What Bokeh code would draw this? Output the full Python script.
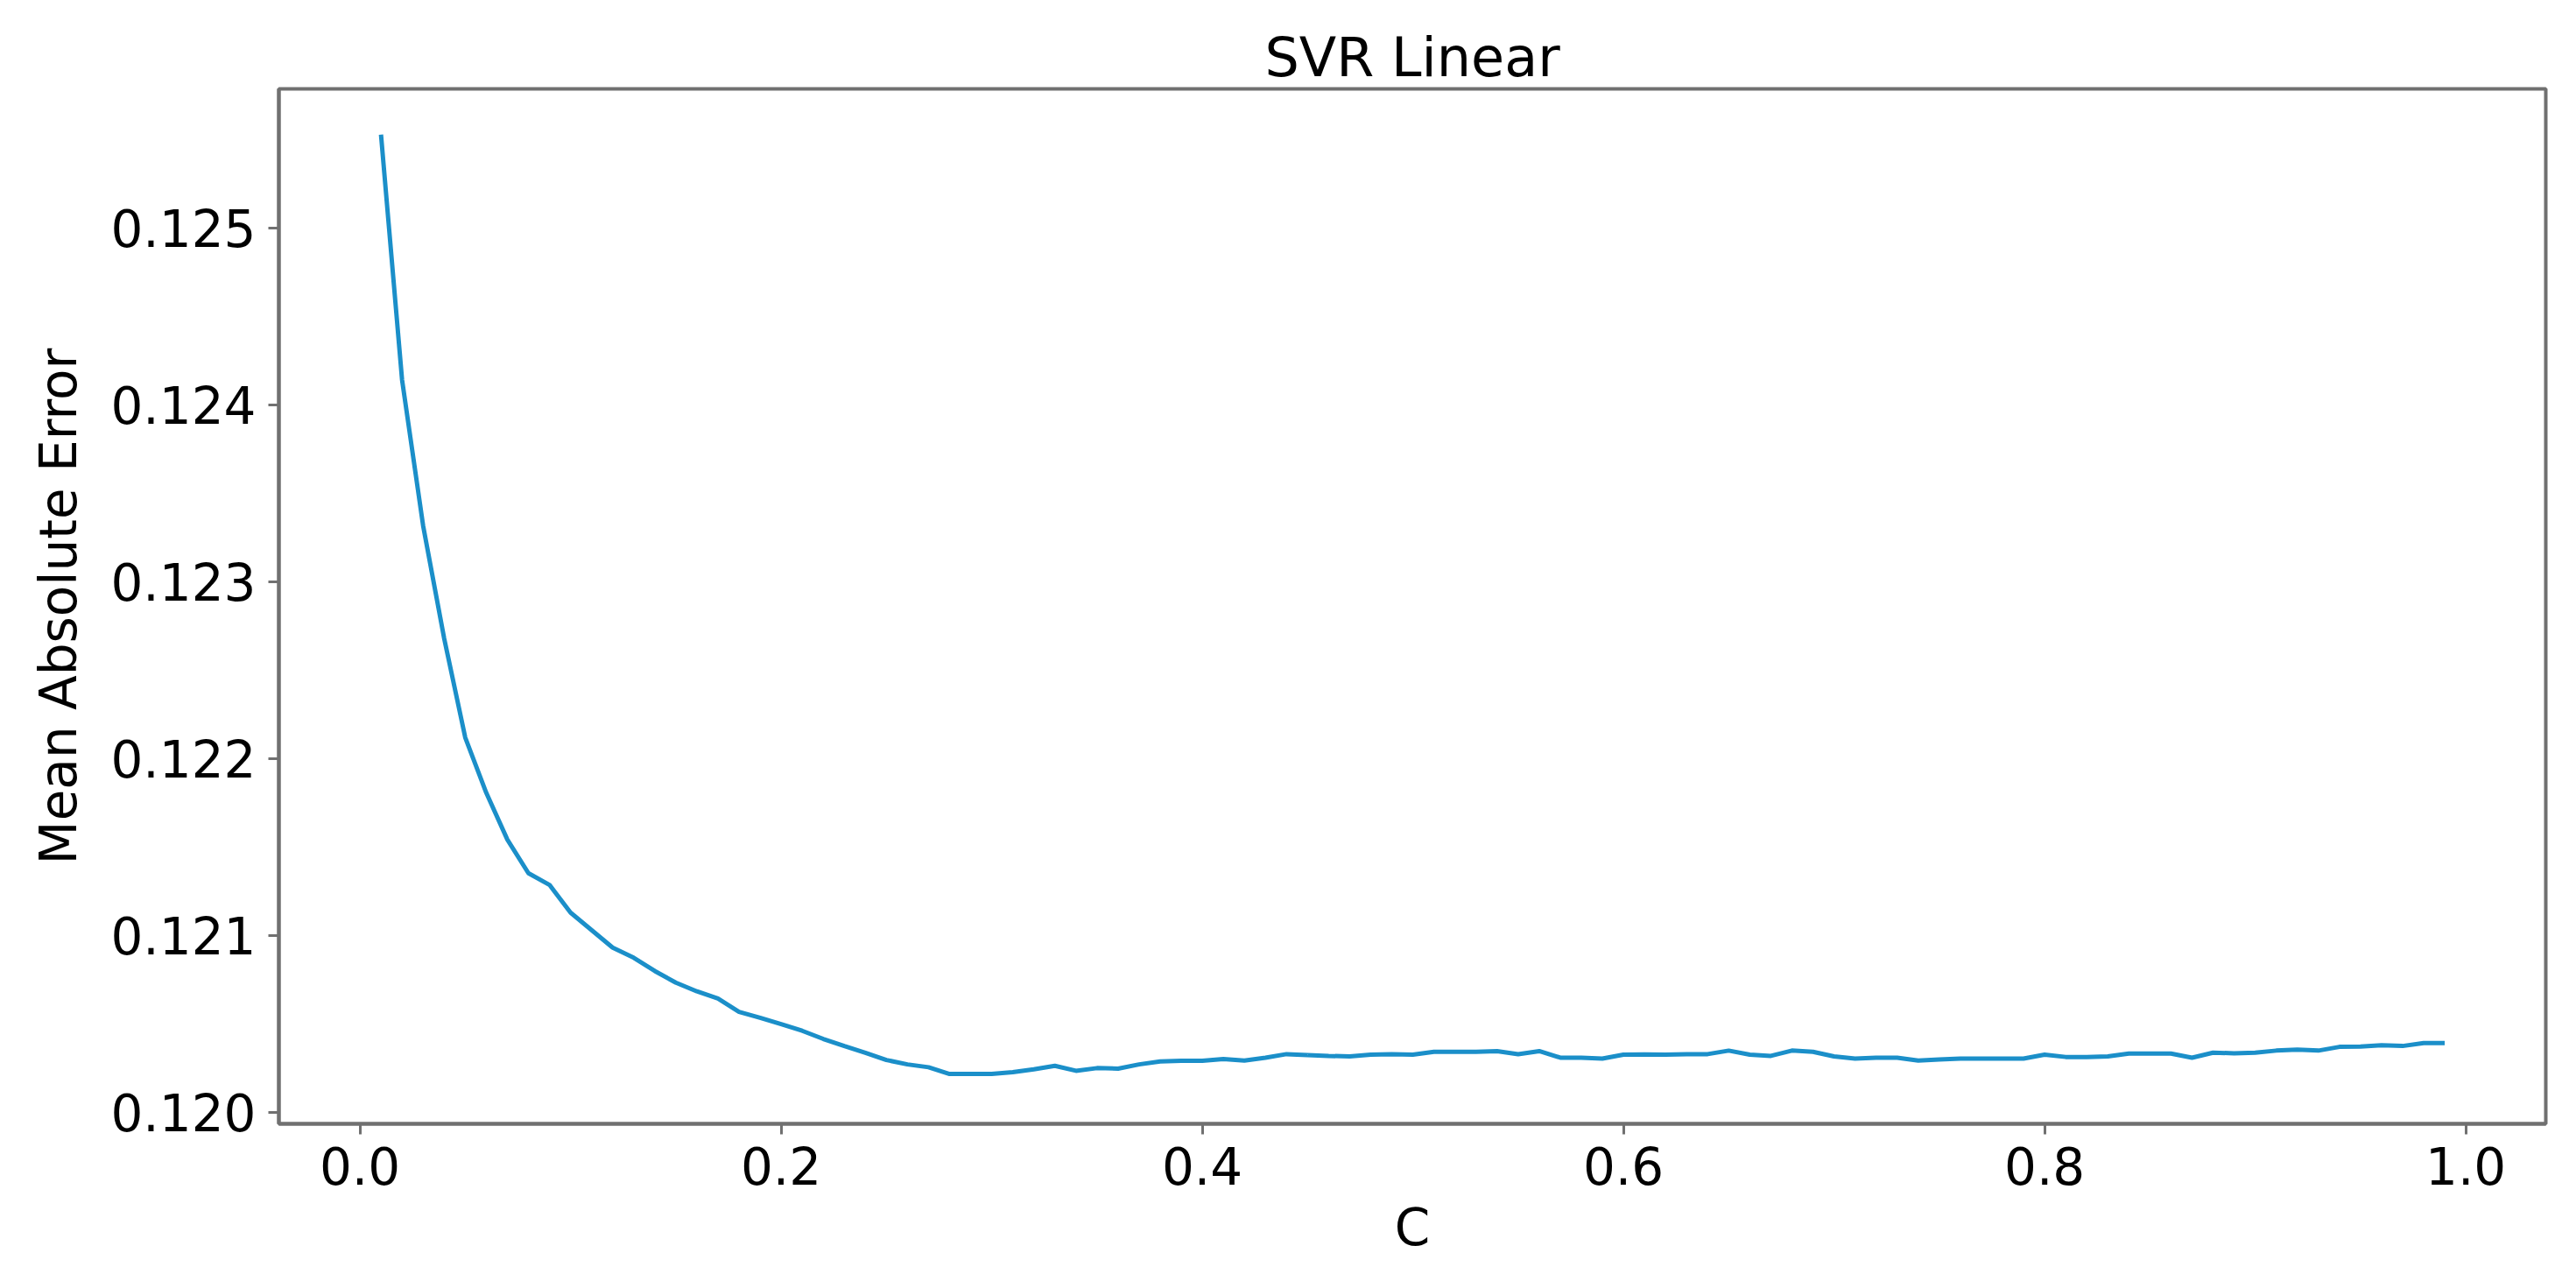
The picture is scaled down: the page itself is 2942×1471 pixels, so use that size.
from bokeh.plotting import figure
from bokeh.models import Range1d, FixedTicker, NumeralTickFormatter
from bokeh.embed import file_html
from bokeh.resources import INLINE

# Data (C from 0.01 to 0.99)
c_values = [
    0.01, 0.02, 0.03, 0.04, 0.05, 0.06, 0.07, 0.08, 0.09, 0.10,
    0.11, 0.12, 0.13, 0.14, 0.15, 0.16, 0.17, 0.18, 0.19, 0.20,
    0.21, 0.22, 0.23, 0.24, 0.25, 0.26, 0.27, 0.28, 0.29, 0.30,
    0.31, 0.32, 0.33, 0.34, 0.35, 0.36, 0.37, 0.38, 0.39, 0.40,
    0.41, 0.42, 0.43, 0.44, 0.45, 0.46, 0.47, 0.48, 0.49, 0.50,
    0.51, 0.52, 0.53, 0.54, 0.55, 0.56, 0.57, 0.58, 0.59, 0.60,
    0.61, 0.62, 0.63, 0.64, 0.65, 0.66, 0.67, 0.68, 0.69, 0.70,
    0.71, 0.72, 0.73, 0.74, 0.75, 0.76, 0.77, 0.78, 0.79, 0.80,
    0.81, 0.82, 0.83, 0.84, 0.85, 0.86, 0.87, 0.88, 0.89, 0.90,
    0.91, 0.92, 0.93, 0.94, 0.95, 0.96, 0.97, 0.98, 0.99,
]
mae_values = [
    0.125528, 0.124142, 0.123317, 0.122680, 0.122120, 0.121807, 0.121543, 0.121353, 0.121287, 0.121130,
    0.121031, 0.120932, 0.120875, 0.120800, 0.120734, 0.120685, 0.120644, 0.120569, 0.120536, 0.120500,
    0.120462, 0.120416, 0.120376, 0.120338, 0.120297, 0.120272, 0.120256, 0.120218, 0.120218, 0.120218,
    0.120228, 0.120244, 0.120264, 0.120236, 0.120251, 0.120248, 0.120272, 0.120289, 0.120292, 0.120292,
    0.120302, 0.120294, 0.120310, 0.120330, 0.120325, 0.120320, 0.120317, 0.120327, 0.120330, 0.120327,
    0.120343, 0.120343, 0.120343, 0.120347, 0.120330, 0.120347, 0.120310, 0.120310, 0.120305, 0.120327,
    0.120328, 0.120327, 0.120330, 0.120330, 0.120350, 0.120327, 0.120320, 0.120350, 0.120343, 0.120317,
    0.120305, 0.120310, 0.120310, 0.120294, 0.120300, 0.120305, 0.120305, 0.120305, 0.120305, 0.120327,
    0.120314, 0.120314, 0.120317, 0.120333, 0.120333, 0.120333, 0.120310, 0.120338, 0.120335, 0.120338,
    0.120350, 0.120356, 0.120350, 0.120371, 0.120373, 0.120380, 0.120376, 0.120393, 0.120393,
]
x_ticks = [0.0, 0.2, 0.4, 0.6, 0.8, 1.0]
y_ticks = [0.120, 0.121, 0.122, 0.123, 0.124, 0.125]

FONT = "DejaVu Sans"
AXIS_COLOR = "#707070"

p = figure(
    width=2920, height=1460,
    output_backend="svg", toolbar_location=None,
    x_range=Range1d(-0.0385, 1.038),
    y_range=Range1d(0.119936, 0.125787),
    title="SVR Linear",
    min_border_left=318, min_border_right=13,
    min_border_top=101, min_border_bottom=177,
)
p.background_fill_color = "white"
p.border_fill_color = "white"
p.grid.visible = False
p.outline_line_color = AXIS_COLOR
p.outline_line_width = 4

p.title.text_font = FONT
p.title.text_font_size = "62px"
p.title.text_font_style = "normal"
p.title.text_color = "black"
p.title.align = "center"
p.title.standoff = 0

p.line(c_values, mae_values, line_color="#1b8fc9", line_width=5)

for ax in (p.xaxis[0], p.yaxis[0]):
    ax.axis_line_color = AXIS_COLOR
    ax.axis_line_width = 4
    ax.major_tick_line_color = AXIS_COLOR
    ax.major_tick_line_width = 3
    ax.major_tick_out = 12
    ax.major_tick_in = 0
    ax.minor_tick_line_color = None
    ax.major_label_text_font = FONT
    ax.major_label_text_font_size = "58px"
    ax.major_label_text_color = "black"
    ax.axis_label_text_font = FONT
    ax.axis_label_text_font_size = "58px"
    ax.axis_label_text_font_style = "normal"
    ax.axis_label_text_color = "black"

p.xaxis[0].ticker = FixedTicker(ticks=x_ticks)
p.xaxis[0].formatter = NumeralTickFormatter(format="0.0")
p.xaxis[0].axis_label = "C"
p.xaxis[0].major_label_standoff = 14
p.xaxis[0].axis_label_standoff = 12

p.yaxis[0].ticker = FixedTicker(ticks=y_ticks)
p.yaxis[0].formatter = NumeralTickFormatter(format="0.000")
p.yaxis[0].axis_label = "Mean Absolute Error"
p.yaxis[0].major_label_standoff = 14
p.yaxis[0].axis_label_standoff = 22

open("out.html", "w").write(file_html(p, INLINE))
